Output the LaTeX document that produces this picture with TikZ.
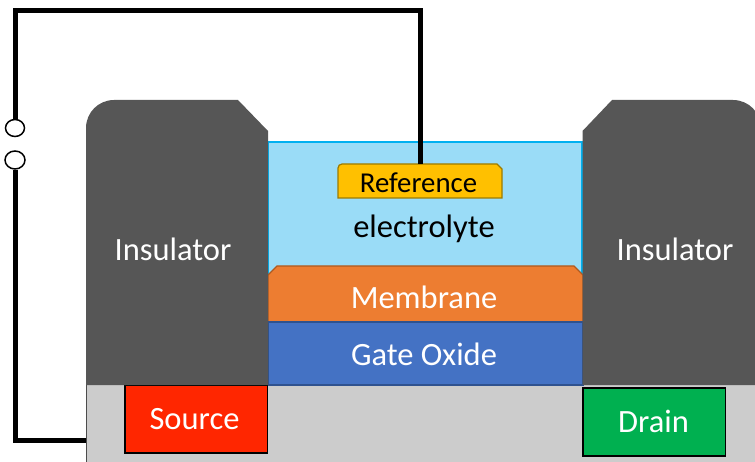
\documentclass[tikz,border=0pt]{standalone}
\usepackage{fontspec}
\setmainfont{Carlito}
\usetikzlibrary{shapes.geometric}
\definecolor{insul}{HTML}{565656}
\definecolor{elec}{HTML}{9ADCF7}
\definecolor{elecb}{HTML}{00B0F0}
\definecolor{memb}{HTML}{ED7D31}
\definecolor{membb}{HTML}{AE5A21}
\definecolor{gateo}{HTML}{4472C4}
\definecolor{gateb}{HTML}{2F528F}
\definecolor{subs}{HTML}{CCCCCC}
\definecolor{srcc}{HTML}{FF2600}
\definecolor{drnc}{HTML}{00B050}
\definecolor{refc}{HTML}{FFC000}
\definecolor{refb}{HTML}{9C7B00}
\tikzset{
  wire/.style={draw=black,line width=5pt,line join=miter},
  terminal/.style={ellipse,draw=black,fill=white,line width=1.5pt,inner sep=0pt},
  whitelabel/.style={text=white,font=\fontsize{32.5}{36}\selectfont,inner sep=0pt},
  blacklabel/.style={text=black,font=\fontsize{32.5}{36}\selectfont,inner sep=0pt},
  contact/.style={draw=black,line width=1.5pt,minimum width=142.5pt,inner sep=0pt}
}
\begin{document}
\begin{tikzpicture}[x=1pt,y=-1pt]
\useasboundingbox (0,0) rectangle (755,462);
\clip (0,0) rectangle (755,462);
% substrate
\fill[subs] (86,385) rectangle (755,462);
\draw[black!70,line width=1pt] (86.5,385) -- (86.5,462);
% electrolyte
\path[fill=elec,draw=elecb,line width=1.2pt] (268,142) rectangle (582,285);
% membrane
\path[fill=memb,draw=membb,line width=1.2pt] (268,275) -- (277,266) -- (574,266) -- (583,275) -- (583,322) -- (268,322) -- cycle;
% gate oxide
\path[fill=gateo,draw=gateb,line width=1.2pt] (268,322) rectangle (583,385);
% source contact, top edge hidden by the insulator
\node[contact,fill=srcc,minimum height=68pt,anchor=north west] (source) at (124,384) {};
% insulators
\path[fill=insul] (86,128) .. controls (86,112.5) and (98.5,100) .. (114,100) -- (238,100) -- (268,131) -- (268,385) -- (86,385) -- cycle;
\path[fill=insul] (582.5,131) -- (612,100) -- (733,100) .. controls (748.5,100) and (761,112.5) .. (761,128) -- (761,385) -- (582.5,385) -- cycle;
% drain contact
\node[contact,fill=drnc,minimum height=68pt,anchor=north west] (drain) at (582,387) {};
% reference electrode
\path[fill=refc,draw=refb,line width=1.2pt] (338,168) .. controls (338,165.8) and (339.8,164) .. (342,164) -- (497,164) -- (502,169) -- (502,198) -- (338,198) -- cycle;
% labels
\node[whitelabel] (insL) at (173,249) {Insulator};
\node[whitelabel] (insR) at (675,249) {Insulator};
\node[blacklabel,font=\fontsize{28.8}{32}\selectfont] (reflab) at (418.5,182.5) {Reference};
\node[blacklabel] (elecl) at (424,229) {electrolyte};
\node[whitelabel] (membl) at (424,297) {Membrane};
\node[whitelabel] (gatel) at (424,354) {Gate Oxide};
\node[whitelabel] at ([xshift=-1.5pt]source.center) {Source};
\node[whitelabel] at ([xshift=-0.5pt]drain.center) {Drain};
% circuit
\node[terminal,minimum width=19pt,minimum height=17pt] (t1) at (15,128) {};
\node[terminal,minimum width=20pt,minimum height=18pt] (t2) at (15,160) {};
\coordinate (corner) at (15,11);
\coordinate (refTop) at (420,164);
\coordinate (subL) at (86,440);
\draw[wire] (t1.north) -- (corner) -- (corner -| refTop) -- (refTop);
\draw[wire] (t2.south) -- (t2.south |- subL) -- (subL);
\end{tikzpicture}
\end{document}
